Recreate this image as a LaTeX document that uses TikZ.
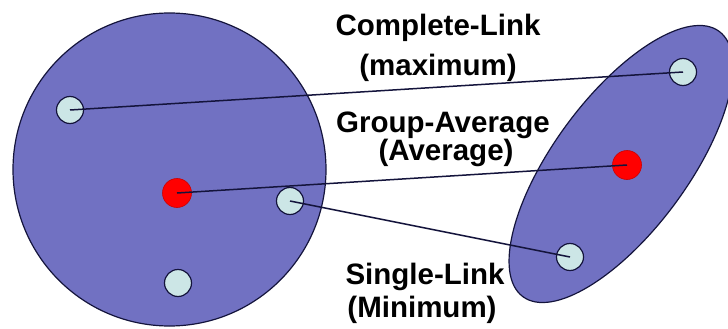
\documentclass[tikz,border=0pt]{standalone}
\usepackage{fontspec}
\setmainfont{Liberation Sans}
\usetikzlibrary{shapes.geometric}
\definecolor{clusterblue}{RGB}{113,113,194}
\definecolor{pointcyan}{RGB}{204,230,230}
\definecolor{edgenavy}{RGB}{20,20,60}

\begin{document}
\begin{tikzpicture}[x=1pt, y=-1pt,
	every node/.style={font=\fontsize{29.5}{34}\selectfont\bfseries},
	cluster/.style={draw=edgenavy, line width=1.2pt, fill=clusterblue, inner sep=0pt},
	member/.style={circle, draw=edgenavy, line width=1.2pt, fill=pointcyan, minimum size=27pt, inner sep=0pt},
	centroid/.style={circle, fill=red, draw=red!80!black, line width=0.6pt, minimum size=29pt, inner sep=0pt},
	link/.style={draw=edgenavy, line width=1.5pt},
	caption/.style={anchor=base}]
	\useasboundingbox (0,0) rectangle (728,329);
	\begin{scope}
		\node[cluster, circle, minimum size=313pt] (leftcluster) at (169.5,169.5) {};
		\node[member] (leftfar) at (70,110) {};
		\node[centroid] (leftmean) at (177,193) {};
		\node[member] (leftnear) at (290,201) {};
		\node[member] (leftlow) at (178,283) {};
	\end{scope}
	\begin{scope}
		\node[cluster, ellipse, rotate=53.5, minimum width=330pt, minimum height=134pt] (rightcluster) at (621,164) {};
		\node[member] (rightfar) at (683,72) {};
		\node[centroid] (rightmean) at (627,165) {};
		\node[member] (rightnear) at (570,257) {};
	\end{scope}
	\draw[link] (leftfar.center) -- (rightfar.center);
	\draw[link] (leftmean.center) -- (rightmean.center);
	\draw[link] (leftnear.center) -- (rightnear.center);
	\node[caption] (complete) at (438,36) {Complete-Link};
	\node[caption] (completesub) at (438,75) {(maximum)};
	\node[caption] (group) at (443,132) {Group-Average};
	\node[caption] (groupsub) at (446,160) {(Average)};
	\node[caption] (single) at (425,284) {Single-Link};
	\node[caption] (singlesub) at (422,317) {(Minimum)};
\end{tikzpicture}
\end{document}
